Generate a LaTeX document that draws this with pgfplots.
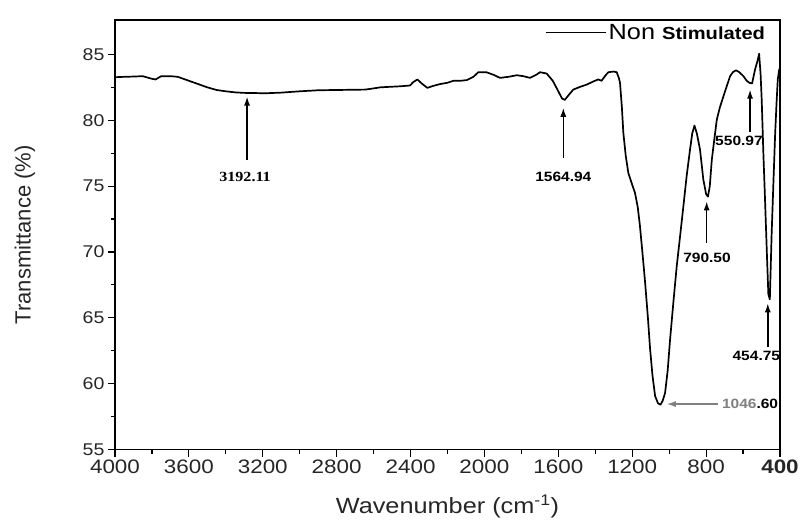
\documentclass[border=0pt]{standalone}
\usepackage{fontspec}
\setmainfont{Liberation Sans}[FakeStretch=1.15]
\newfontfamily\plainsans{Liberation Sans}
\newfontfamily\serifwide{Liberation Serif}[FakeStretch=1.15]
\usepackage{pgfplots}
\pgfplotsset{compat=1.18}
\usetikzlibrary{arrows.meta}

% FTIR spectrum: wavenumber (cm^-1) vs transmittance (%)
\pgfplotstableread{
w T
4000 83.27
3950 83.30
3900 83.32
3850 83.35
3800 83.15
3780 83.10
3750 83.35
3700 83.35
3660 83.30
3620 83.10
3580 82.90
3540 82.70
3500 82.50
3450 82.30
3400 82.20
3350 82.12
3300 82.08
3250 82.07
3188 82.05
3100 82.10
3000 82.20
2900 82.28
2800 82.30
2700 82.32
2646 82.33
2600 82.42
2565 82.50
2500 82.55
2457 82.58
2403 82.64
2385 82.90
2363 83.10
2340 82.80
2309 82.46
2280 82.60
2240 82.75
2200 82.85
2168 83.00
2130 83.00
2096 83.05
2060 83.30
2033 83.65
1990 83.65
1950 83.45
1916 83.22
1870 83.30
1825 83.42
1790 83.35
1753 83.22
1720 83.45
1699 83.65
1663 83.55
1630 83.00
1600 82.20
1580 81.65
1565 81.55
1545 81.90
1519 82.33
1480 82.55
1446 82.71
1410 82.95
1384 83.10
1366 83.00
1345 83.40
1329 83.65
1300 83.70
1284 83.65
1272 83.20
1266 82.84
1256 81.00
1248 79.05
1235 77.30
1221 76.00
1200 75.10
1185 74.49
1170 73.40
1158 71.96
1145 70.00
1130 67.66
1115 65.00
1103 62.59
1090 60.60
1076 59.05
1060 58.50
1047 58.40
1035 58.70
1022 59.30
1008 61.00
995 63.35
977 66.20
959 68.92
940 71.30
923 73.47
905 75.80
887 77.78
875 79.00
863 79.60
850 79.00
833 77.78
815 75.50
800 74.40
790 74.20
780 75.00
769 77.02
755 78.60
742 80.06
725 81.00
706 81.83
688 82.60
670 83.35
655 83.65
638 83.80
620 83.65
598 83.35
580 83.00
565 82.84
551 82.80
535 83.85
520 84.60
513 85.05
505 83.50
499 81.57
490 77.50
481 73.98
470 69.50
463 66.80
455 66.40
445 71.45
435 75.50
426 79.05
418 81.50
412 83.10
405 83.80
400 84.00
}\spectrum

\begin{document}
\begin{tikzpicture}
\begin{axis}[
  scale only axis,
  width=665pt, height=429.3pt,
  xmin=400, xmax=4000, x dir=reverse,
  ymin=55, ymax=87.6,
  xtick={4000,3600,3200,2800,2400,2000,1600,1200,800,400},
  xticklabels={4000,3600,3200,2800,2400,2000,1600,1200,800,\textbf{400}},
  ytick={55,60,65,70,75,80,85},
  minor x tick num=1, minor y tick num=1,
  tick pos=left, tick align=outside,
  major tick length=7pt, minor tick length=4pt,
  every tick/.style={black, line width=1.2pt},
  axis line style={line width=1.6pt},
  /pgf/number format/assume math mode=true,
  x tick label style={font=\fontsize{19.5}{19.5}\selectfont, text=black!85},
  y tick label style={font=\fontsize{17}{17}\selectfont, text=black!85},
  xlabel={Wavenumber (cm\textsuperscript{-1})},
  xlabel style={font=\fontsize{22}{22}\selectfont, text=black!85,
    at={(axis description cs:0.5,-0.1486)}, anchor=base},
  ylabel={Transmittance (\%)},
  ylabel style={font=\plainsans\fontsize{22}{22}\selectfont, text=black!85,
    at={(axis description cs:-0.1353,0.5)}, anchor=center},
  legend style={draw=none, fill=none, inner sep=0pt,
    at={(axis description cs:0.6466,0.9709)}, anchor=west,
    font=\fontsize{22}{22}\selectfont},
  legend image code/.code={\draw[#1, line width=1.5pt] (0pt,0pt) -- (60pt,0pt);},
  clip=false,
]
\addplot[black, line width=1.7pt, line join=round] table[x=w, y=T] {\spectrum};
\addlegendentry{Non {\fontsize{17.5}{17.5}\selectfont\bfseries Stimulated}}

% band assignments
\tikzset{pk/.style={-{Latex[length=9pt,width=6pt]}, line width=1.4pt}}
\draw[pk] (axis cs:3285,77.0) -- (axis cs:3285,81.8);
\node[font=\serifwide\bfseries\fontsize{14}{14}\selectfont] at (axis cs:3296,75.73) {3192.11};

\draw[pk] (axis cs:1573,77.15) -- (axis cs:1573,80.95);
\node[font=\bfseries\fontsize{13.5}{13.5}\selectfont] at (axis cs:1573,75.69) {1564.94};

\draw[pk] (axis cs:797,70.69) -- (axis cs:797,73.84);
\node[font=\bfseries\fontsize{13.5}{13.5}\selectfont] at (axis cs:795,69.55) {790.50};

\draw[pk] (axis cs:562,79.13) -- (axis cs:562,82.33);
\node[font=\bfseries\fontsize{13.5}{13.5}\selectfont] at (axis cs:622,78.4) {550.97};

\draw[pk] (axis cs:466,62.8) -- (axis cs:466,66.1);
\node[font=\bfseries\fontsize{13.5}{13.5}\selectfont] at (axis cs:528,62.09) {454.75};

\draw[pk, black!50] (axis cs:734,58.45) -- (axis cs:1013,58.45);
\node[font=\bfseries\fontsize{13.5}{13.5}\selectfont, anchor=west, inner sep=0pt] at (axis cs:715,58.45) {\textcolor{black!50}{1046}.60};
\end{axis}
\path (current axis.south west) ++(-115pt,-70.5pt) rectangle ++(804pt,520pt);
\end{tikzpicture}
\end{document}
